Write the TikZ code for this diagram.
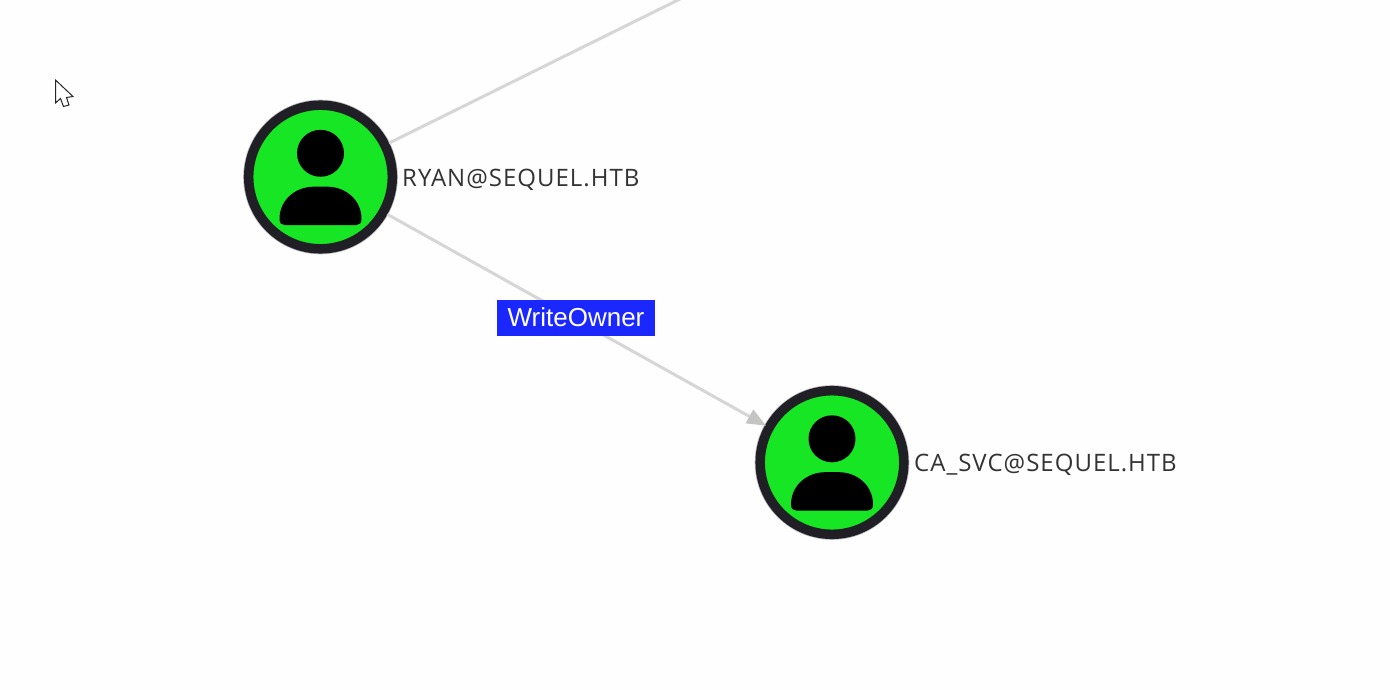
\documentclass[tikz,border=0pt]{standalone}
\usepackage{fontspec}
\setmainfont{Open Sans}
\newfontfamily\labelfont{Liberation Sans}
\newfontfamily\namefont[LetterSpace=4.2]{Open Sans}
\usetikzlibrary{arrows.meta}
\definecolor{bgc}{HTML}{FEFEFE}
\definecolor{edgec}{HTML}{D6D6D6}
\definecolor{tipc}{HTML}{C4C4C4}
\definecolor{ringc}{HTML}{211F26}
\definecolor{haloc}{HTML}{B8B8BC}
\definecolor{userc}{HTML}{17E625}
\definecolor{tagc}{HTML}{1A28FF}
\definecolor{textc}{HTML}{333333}
\newcommand{\usericon}[1]{%
  \begin{scope}[shift={(#1.center)}]
    \fill[black] (0,-23.7) circle (23.5);
    \fill[black] (-41,42) .. controls (-41,22) and (-24,9.7) .. (-7,9.7)
      -- (7,9.7) .. controls (24,9.7) and (41,22) .. (41,42)
      .. controls (41,46) and (39,48) .. (36,48) -- (-36,48)
      .. controls (-39,48) and (-41,46) .. (-41,42) -- cycle;
  \end{scope}}
\tikzset{
  x=1pt,y=-1pt,
  usernode/.style={circle,draw=ringc,fill=userc,line width=9.5pt,minimum size=143.6pt,inner sep=0pt,
    preaction={draw=haloc,line width=11pt}},
  edgeline/.style={draw=edgec,line width=3pt},
  arrowline/.style={edgeline,-{Triangle[length=19pt,width=15pt,color=tipc]},shorten >=-1pt},
  namelabel/.style={anchor=west,inner sep=0pt,text=textc,font=\namefont\fontsize{24}{28}\selectfont},
  taglabel/.style={fill=tagc,text=white,inner sep=0pt,minimum width=158pt,minimum height=36pt,
    font=\labelfont\fontsize{26}{30}\selectfont},
  cursorshape/.style={fill=white,draw=black!85,line width=1pt,line join=miter}
}
\begin{document}
\begin{tikzpicture}
\useasboundingbox (0,0) rectangle (1390,690);
\fill[bgc] (0,0) rectangle (1390,690);
\coordinate (offtop) at (680,-1);
\node[usernode] (ryan) at (320.5,177) {};
\node[usernode] (casvc) at (832,462.5) {};
\draw[edgeline] (ryan) -- (offtop);
\draw[arrowline] (ryan) -- (casvc);
\usericon{ryan}
\usericon{casvc}
\node[namelabel] (ryanname) at (402,180) {RYAN@SEQUEL.HTB};
\node[namelabel] (caname) at (914,465) {CA\_SVC@SEQUEL.HTB};
\node[taglabel] (tag) at (576,317.5) {WriteOwner};
\draw[cursorshape] (55.5,80) -- (73,96.5) -- (66.5,97.5) -- (69,105) -- (63.5,106.5) -- (60.5,98.5) -- (55.5,103) -- cycle;
\end{tikzpicture}
\end{document}
